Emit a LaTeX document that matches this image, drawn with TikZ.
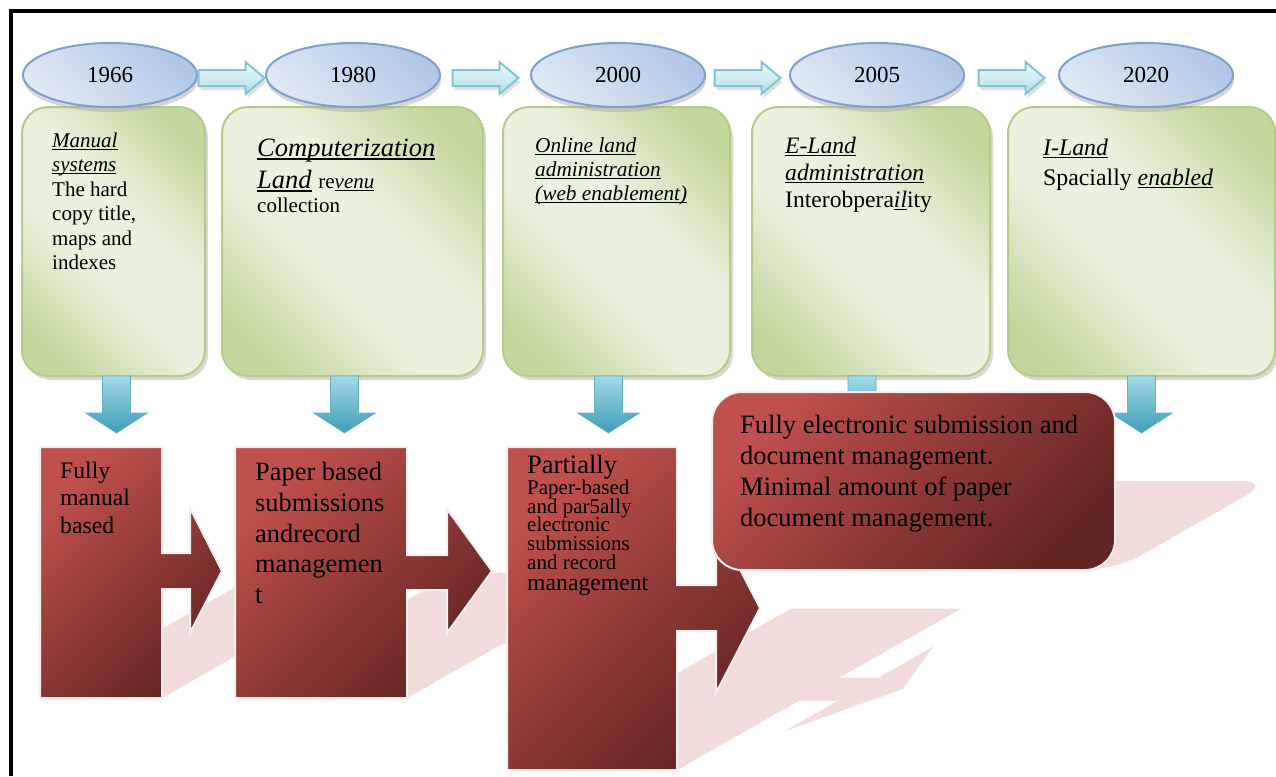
\documentclass[tikz,border=0pt]{standalone}
\usepackage{fontspec}
\setmainfont{Liberation Serif}
\usetikzlibrary{calc, positioning, shapes.geometric, shadows}

\definecolor{grlight}{HTML}{EAF1DE}
\definecolor{grdark}{HTML}{C3D69B}
\definecolor{grborder}{HTML}{B4CC88}
\definecolor{yrlight}{HTML}{DFE8F3}
\definecolor{yrdark}{HTML}{B2C7E6}
\definecolor{yrborder}{HTML}{7EA0CF}
\definecolor{harlight}{HTML}{EEF8FA}
\definecolor{hardark}{HTML}{B3DFE9}
\definecolor{harborder}{HTML}{7FC7D7}
\definecolor{dalight}{HTML}{A3D9E7}
\definecolor{dadark}{HTML}{3E9DB7}
\definecolor{redlight}{HTML}{C0504D}
\definecolor{reddark}{HTML}{632523}
\definecolor{pinkshade}{HTML}{F1DCDB}

\pgfdeclarehorizontalshading{greenfade}{100bp}{color(0bp)=(grdark); color(22bp)=(grdark); color(42bp)=(grlight); color(58bp)=(grlight); color(78bp)=(grdark); color(100bp)=(grdark)}

% underline at a fixed depth, as a word processor does it
\newcommand\ulw[1]{\leavevmode\setbox0=\hbox{#1}\rlap{\rule[-0.12em]{\wd0}{0.055em}}\box0\relax}
% keep tight line spacing in the notes
\lineskiplimit=-30pt

\tikzset{
	erabox/.style={rectangle, rounded corners=26, draw=grborder, line width=2,
		shade, shading=greenfade, shading angle=45,
		drop shadow={shadow xshift=3pt, shadow yshift=-4pt, fill=black!30, opacity=0.5}},
	yearnode/.style={ellipse, minimum width=174, minimum height=64, inner sep=0,
		draw=yrborder, line width=2, left color=yrlight, right color=yrdark, shading angle=135,
		font=\fontsize{23}{27}\selectfont,
		drop shadow={shadow xshift=1pt, shadow yshift=-5pt, fill=black!35, opacity=0.45}},
	harr/.style={draw=harborder, line width=2, top color=harlight, bottom color=hardark,
		drop shadow={shadow xshift=2pt, shadow yshift=-4pt, fill=black!30, opacity=0.4}},
	darr/.style={top color=dalight, bottom color=dadark, draw=dadark!80, line width=0.6},
	redfill/.style={left color=redlight, right color=reddark, shading angle=45,
		draw=black!6, line width=2},
	shadowcast/.style={cm={1,0,0.88,0.5,(0.88*#1pt,-0.5*#1pt)}},
	eratext/.style={anchor=north west, align=left, inner sep=0},
	red1path/.style={insert path={(40,447) -- (162,447) -- (162,553) -- (190,553) -- (190,508)
		-- (222,571) -- (190,633) -- (190,589) -- (162,589) -- (162,698) -- (40,698) -- cycle}},
	red2path/.style={insert path={(235,447) -- (407,447) -- (407,555) -- (447,555) -- (447,509)
		-- (492,571) -- (447,633) -- (447,590) -- (407,590) -- (407,698) -- (235,698) -- cycle}},
	red3path/.style={insert path={(507,447) -- (677,447) -- (677,585) -- (716,585) -- (716,523)
		-- (760,608) -- (716,693) -- (716,631) -- (677,631) -- (677,770) -- (507,770) -- cycle}},
	red4path/.style={rounded corners=30, insert path={(712,392) rectangle (1115,570)}}
}

\begin{document}
\begin{tikzpicture}[x=1pt, y=-1pt]
	\useasboundingbox (0,0) rectangle (1276,776);
	\draw[line width=4] (11,776) -- (11,11) -- (1276,11);
	% green era boxes
	\foreach \l/\r [count=\i] in {22/205,222/483,503/730,752/990,1008/1275}
		\node[erabox, minimum width=\r-\l, minimum height=269] (era\i) at ({(\l+\r)/2},241.5) {};
	% years
	\foreach \x/\yr [count=\i] in {110/1966,353/1980,618/2000,877/2005,1146/2020}
		\node[yearnode] (yr\i) at (\x,75) {\yr};
	\foreach \a/\b in {yr1/yr2,yr2/yr3,yr3/yr4,yr4/yr5}
		\draw[harr] ($(\a.east)!0.5!(\b.west)+(-33,-5)$) -- ++(47,0) -- ++(0,-8) -- ++(19,16)
			-- ++(-19,16) -- ++(0,-8) -- ++(-47,0) -- cycle;
	% down arrows
	\foreach \b/\dx in {era1/3,era2/-8,era3/-8,era4/-9,era5/0}
		\draw[darr] ($(\b.south)+(\dx-14,-1)$) -- ++(28,0) -- ++(0,37) -- ++(17,0) -- ++(-31,20)
			-- ++(-31,-20) -- ++(17,0) -- cycle;
	% red shapes and their shadows
	\foreach \p/\base in {red1path/698,red2path/698,red3path/770,red4path/570}
		\fill[pinkshade, shadowcast=\base, \p];
	\foreach \p in {red1path,red2path,red3path,red4path}
		\shade[redfill, \p];
	% texts
	\node[eratext, font=\fontsize{21}{24.4}\selectfont] (txt1) at (52,132.7)
		{\ulw{\textit{Manual}}\\\ulw{\textit{systems}}\\The hard\\copy title,\\maps and\\indexes};
	\node[eratext, font=\fontsize{26.5}{32}\selectfont] (txt2) at (257,139)
		{\ulw{\textit{Computerization}}\\\ulw{\textit{Land}} {\fontsize{21}{24}\selectfont re\ulw{\textit{venu}}}\\[-8pt]{\fontsize{21}{24}\selectfont collection}};
	\node[eratext, font=\fontsize{21.3}{24}\selectfont] (txt3) at (535,137.5)
		{\ulw{\textit{Online land}}\\\ulw{\textit{administration}}\\\ulw{\textit{(web enablement)}}};
	\node[eratext, font=\fontsize{23.6}{27}\selectfont] (txt4) at (785,137)
		{\ulw{\textit{E-Land}}\\\ulw{\textit{administration}}\\Interobpera\ulw{\textit{il}}ity};
	\node[eratext, font=\fontsize{23.8}{30}\selectfont] (txt5) at (1043,138.7)
		{\ulw{\textit{I-Land}}\\Spacially \ulw{\textit{enabled}}};
	\node[eratext, font=\fontsize{23.7}{27.5}\selectfont] (note1) at (60,461.8)
		{Fully\\manual\\based};
	\node[eratext, font=\fontsize{26.4}{30.8}\selectfont] (note2) at (255,462)
		{Paper based\\submissions\\andrecord\\managemen\\t};
	\node[eratext, font=\fontsize{21}{18.8}\selectfont] (note3) at (527,455)
		{{\fontsize{26.5}{20}\selectfont Partially}\\[2pt]Paper-based\\and par5ally\\electronic\\submissions\\and record\\[2pt]{\fontsize{23.7}{20}\selectfont management}};
	\node[eratext, font=\fontsize{26.5}{31}\selectfont] (note4) at (740,414.9)
		{Fully electronic submission and\\document management.\\Minimal amount of paper\\document management.};
\end{tikzpicture}
\end{document}
